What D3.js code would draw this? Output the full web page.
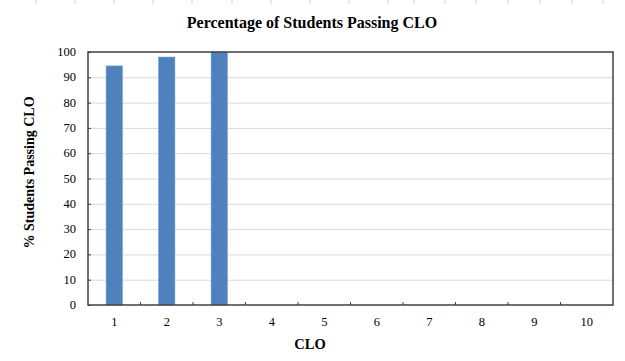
<!DOCTYPE html>
<html>
<head>
<meta charset="utf-8">
<script src="https://cdn.jsdelivr.net/npm/d3@7"></script>
<style>
  body { margin: 0; background: #fff; }
  svg text { font-family: "Liberation Serif", "Times New Roman", serif; fill: #000; }
</style>
</head>
<body>
<div id="chart"></div>
<script>
// chart data
const categories = ['1', '2', '3', '4', '5', '6', '7', '8', '9', '10'];
const passing = [94.5, 98, 100, null, null, null, null, null, null, null];
const yTicks = [0, 10, 20, 30, 40, 50, 60, 70, 80, 90, 100];
// faint sheet cell borders along the top edge
const cellEdges = [36, 75, 114, 153, 192, 232, 271, 310, 349, 388, 414, 445, 476, 508, 540, 572, 603];

const width = 625, height = 361;
const margin = { top: 52, right: 12, bottom: 56, left: 88 };

const svg = d3.select('#chart')
    .append('svg')
    .attr('width', width)
    .attr('height', height);

svg.selectAll('.cell-edge')
    .data(cellEdges)
    .enter()
    .append('line')
    .attr('class', 'cell-edge')
    .attr('x1', d => d).attr('x2', d => d)
    .attr('y1', 0).attr('y2', 4)
    .attr('stroke', '#d0d0d0')
    .attr('stroke-width', 1);

const x = d3.scaleBand()
    .domain(categories)
    .range([margin.left, width - margin.right])
    .paddingInner(0.69)
    .paddingOuter(0.345);

const xOuter = d3.scaleBand()
    .domain(categories)
    .range([margin.left, width - margin.right]);

const y = d3.scaleLinear()
    .domain([0, 100])
    .range([height - margin.bottom, margin.top]);

// gridlines
svg.selectAll('.grid')
    .data(yTicks.filter(t => t > 0 && t < 100))
    .enter()
    .append('line')
    .attr('class', 'grid')
    .attr('x1', margin.left)
    .attr('x2', width - margin.right)
    .attr('y1', d => y(d) + 0.5)
    .attr('y2', d => y(d) + 0.5)
    .attr('stroke', '#d9d9d9')
    .attr('stroke-width', 1);

// bars
svg.selectAll('.bar')
    .data(categories.map((c, i) => ({ c, v: passing[i] })).filter(d => d.v != null))
    .enter()
    .append('rect')
    .attr('class', 'bar')
    .attr('x', d => x(d.c))
    .attr('width', x.bandwidth())
    .attr('y', d => y(d.v))
    .attr('height', d => y(0) - y(d.v))
    .attr('fill', '#4f81bd')
    .attr('stroke', '#6f9ad0')
    .attr('stroke-width', 0.6);

// y axis: ticks inside
const yAxis = d3.axisRight(y)
    .tickValues(yTicks)
    .tickSize(3)
    .tickFormat('');
svg.append('g')
    .attr('transform', `translate(${margin.left},0)`)
    .call(yAxis)
    .call(g => g.select('.domain').remove())
    .call(g => g.selectAll('line').attr('stroke', '#404040'));

svg.selectAll('.ylab')
    .data(yTicks)
    .enter()
    .append('text')
    .attr('class', 'ylab')
    .attr('x', margin.left - 12)
    .attr('y', d => y(d) + 4)
    .attr('text-anchor', 'end')
    .style('font-size', '12.5px')
    .text(d => d);

// x axis: ticks inside at category boundaries
const boundaries = categories.slice(1).map(c => xOuter(c));
svg.selectAll('.xtick')
    .data(boundaries)
    .enter()
    .append('line')
    .attr('class', 'xtick')
    .attr('x1', d => d).attr('x2', d => d)
    .attr('y1', y(0)).attr('y2', y(0) - 3)
    .attr('stroke', '#404040');

svg.selectAll('.xlab')
    .data(categories)
    .enter()
    .append('text')
    .attr('class', 'xlab')
    .attr('x', d => xOuter(d) + xOuter.bandwidth() / 2)
    .attr('y', y(0) + 21)
    .attr('text-anchor', 'middle')
    .style('font-size', '12.5px')
    .text(d => d);

// plot border
svg.append('rect')
    .attr('x', margin.left)
    .attr('y', margin.top)
    .attr('width', width - margin.left - margin.right)
    .attr('height', height - margin.top - margin.bottom)
    .attr('fill', 'none')
    .attr('stroke', '#404040')
    .attr('stroke-width', 1.5);

// titles
svg.append('text')
    .attr('x', 312)
    .attr('y', 28)
    .attr('text-anchor', 'middle')
    .style('font-size', '16px')
    .style('font-weight', 'bold')
    .text('Percentage of Students Passing CLO');

svg.append('text')
    .attr('x', 310)
    .attr('y', 349)
    .attr('text-anchor', 'middle')
    .style('font-size', '14.5px')
    .style('font-weight', 'bold')
    .text('CLO');

svg.append('text')
    .attr('transform', `translate(34,${(margin.top + height - margin.bottom) / 2 - 6}) rotate(-90)`)
    .attr('text-anchor', 'middle')
    .style('font-size', '14px')
    .style('font-weight', 'bold')
    .text('% Students Passing CLO');
</script>
</body>
</html>
